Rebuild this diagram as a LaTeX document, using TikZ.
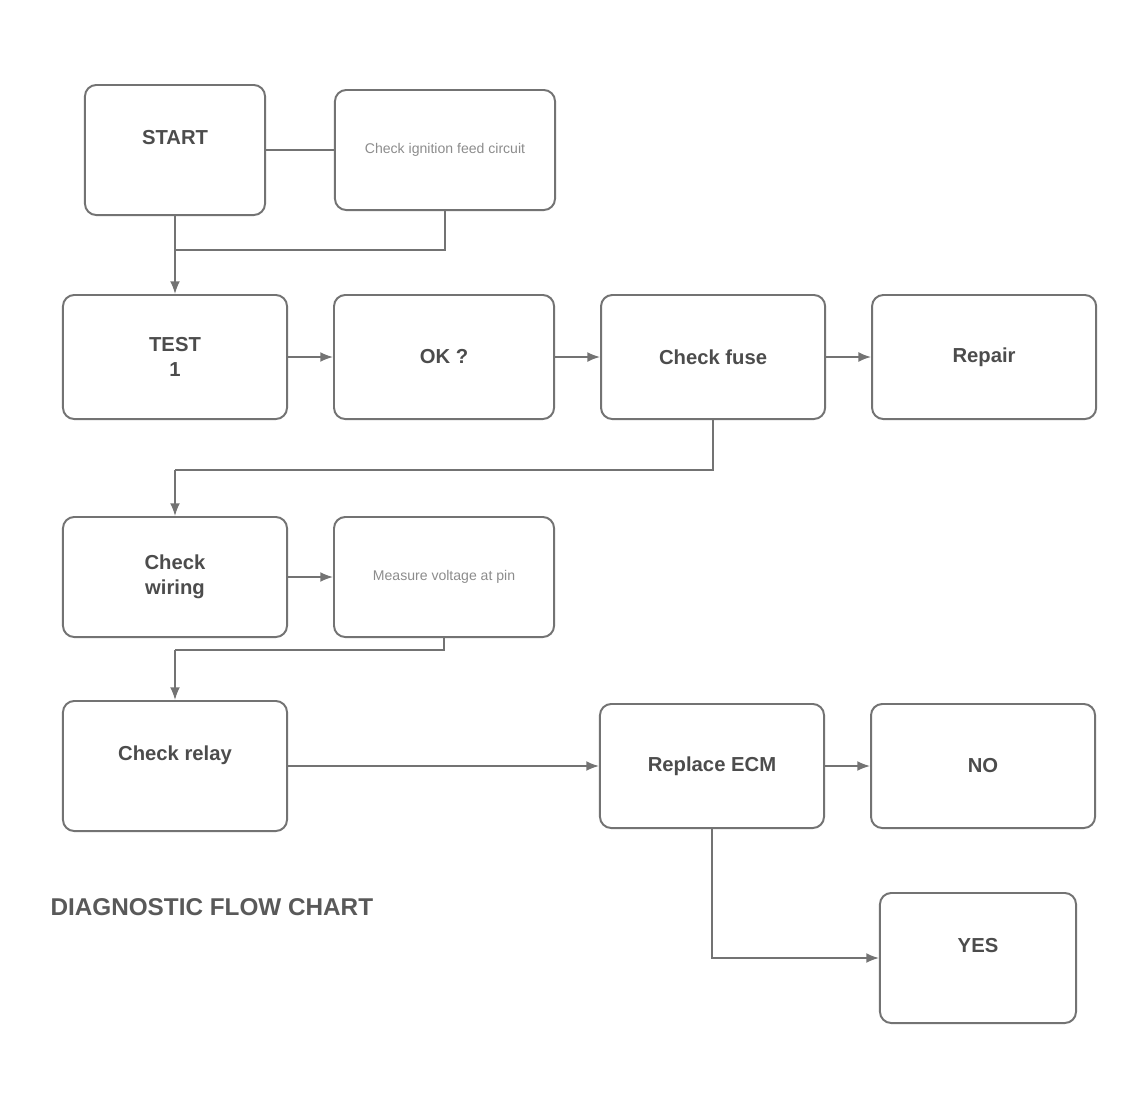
\documentclass[tikz,border=0pt]{standalone}
\usepackage{fontspec}
\setmainfont{Liberation Sans}
\usetikzlibrary{arrows.meta,positioning}

\begin{document}
\begin{tikzpicture}[
  x = 0.025cm, y = -0.025cm,
  node distance = 1.125cm and 1.125cm,
  > = {Latex[length=9pt,width=7pt]},
  color = black!55, line width = 1.2pt,
  blk/.style = {rectangle, draw, line width=1.4pt, rounded corners=8pt,
                align=center, minimum width=5.6cm, minimum height=3.1cm,
                font=\Large\bfseries, text=black!70},
  note/.style = {blk, font=\normalsize, text=black!45}
]
\useasboundingbox (0,0) rectangle (1133,1113);

% ───────── 1st row ─────────
\node[blk, minimum width=4.5cm, minimum height=3.25cm] (start) at (175,150) {START\\ };
\node[note, minimum width=5.5cm, minimum height=3cm]   (feed)  at (445,150) {Check ignition feed circuit};

% ───────── 2nd row ─────────
\node[blk] (test)  at (175,357)       {TEST\\1};
\node[blk, minimum width=5.5cm, right=of test] (ok)    {OK ?};
\node[blk, right=of ok]                        (fuse)  {Check fuse};
\node[blk, right=of fuse]                      (rep)   {Repair};

% ───────── 3rd row ─────────
\node[blk, minimum height=3cm] (wire) at (175,577) {Check\\wiring};
\node[note, minimum width=5.5cm, minimum height=3cm, right=of wire] (volt) {Measure voltage at pin};

% ───────── 4th row ─────────
\node[blk, minimum height=3.25cm] (relay) at (175,766) {Check relay\\ };
\node[blk] (ecm)  at (712,766) {Replace ECM};
\node[blk, right=of ecm] (no)  {NO};

% ───────── last box ────────
\node[blk, minimum width=4.9cm, minimum height=3.25cm] (yes) at (978,958) {YES\\ };

% ───────── caption ─────────
\node[font=\LARGE\bfseries, text=black!65, anchor=west] (cap) at (45,907) {DIAGNOSTIC FLOW CHART};

% ───────── junctions ───────
\coordinate (j1) at (175,250);
\coordinate (j2) at (175,470);
\coordinate (j3) at (175,650);

% ───────── arrows ──────────
\draw (start) -- (feed);
\draw (start.south) -- (start.south |- j1);
\draw (feed.south) |- (j1);
\draw[->] (j1) -- (test);

\draw[->] (test) -- (ok);
\draw[->] (ok)   -- (fuse);
\draw[->] (fuse) -- (rep);

\draw (fuse.south) |- (j2);
\draw[->] (j2) -- (wire);

\draw[->] (wire) -- (volt);
\draw (volt.south) |- (j3);
\draw[->] (j3) -- (relay);

\draw[->] (relay) -- (ecm);
\draw[->] (ecm) -- (no);
\draw[->] (ecm.south) |- (yes);
\end{tikzpicture}
\end{document}
